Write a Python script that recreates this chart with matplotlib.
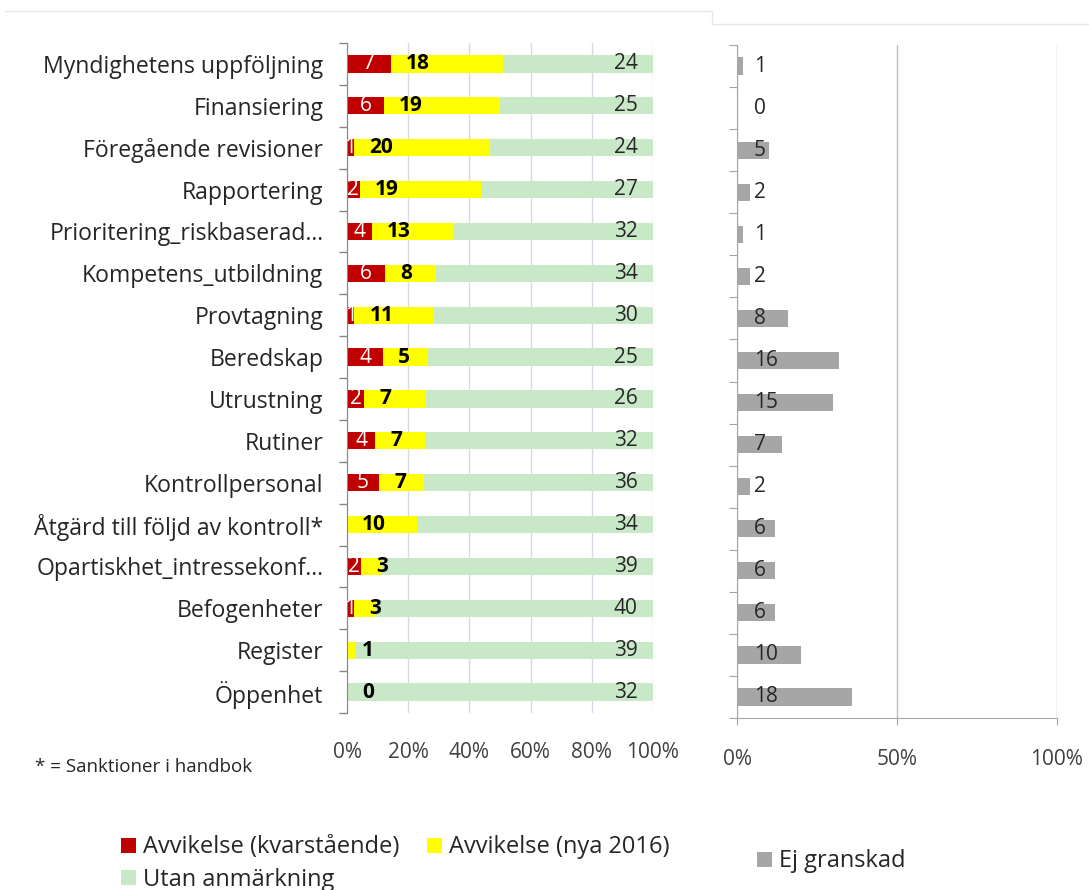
import numpy as np
import matplotlib.pyplot as plt
from matplotlib.lines import Line2D

# data
categories = ['Myndighetens uppföljning', 'Finansiering', 'Föregående revisioner',
              'Rapportering', 'Prioritering_riskbaserad...', 'Kompetens_utbildning',
              'Provtagning', 'Beredskap', 'Utrustning', 'Rutiner', 'Kontrollpersonal',
              'Åtgärd till följd av kontroll*', 'Opartiskhet_intressekonf...',
              'Befogenheter', 'Register', 'Öppenhet']
kvarstaende = [7, 6, 1, 2, 4, 6, 1, 4, 2, 4, 5, 0, 2, 1, 0, 0]
nya_2016 = [18, 19, 20, 19, 13, 8, 11, 5, 7, 7, 7, 10, 3, 3, 1, 0]
utan_anm = [24, 25, 24, 27, 32, 34, 30, 25, 26, 32, 36, 34, 39, 40, 39, 32]
ej_granskad = [1, 0, 5, 2, 1, 2, 8, 16, 15, 7, 2, 6, 6, 6, 10, 18]

plt.rcParams['font.family'] = ['Open Sans', 'DejaVu Sans']

red = np.array(kvarstaende)
yel = np.array(nya_2016)
grn = np.array(utan_anm)
gry = np.array(ej_granskad)
granskad = red + yel + grn
total = granskad + gry

red_p = red / granskad * 100
yel_p = yel / granskad * 100
grn_p = grn / granskad * 100
gry_p = gry / total * 100

y = np.arange(len(categories))
fs = 15
c_red = '#C00000'
c_yel = '#FFFF00'
c_grn = '#C8E8C8'
c_gry = '#A6A6A6'

fig = plt.figure(figsize=(10.89, 8.9), dpi=100)
ax1 = fig.add_axes([347 / 1089, 1 - 713 / 890, 306 / 1089, 670 / 890])
ax2 = fig.add_axes([737 / 1089, 1 - 718 / 890, 320 / 1089, 673 / 890])

# faint frame line at the top
fig.add_artist(Line2D([5 / 1089, 712 / 1089, 712 / 1089, 1], [1 - 11 / 890, 1 - 11 / 890, 1 - 24 / 890, 1 - 24 / 890],
                      color='#E8E8E8', linewidth=1))

# left: 100% stacked bars
h = 0.41
b1 = ax1.barh(y, red_p, height=h, color=c_red, label='Avvikelse (kvarstående)', zorder=2)
b2 = ax1.barh(y, yel_p, left=red_p, height=h, color=c_yel, label='Avvikelse (nya 2016)', zorder=2)
b3 = ax1.barh(y, grn_p, left=red_p + yel_p, height=h, color=c_grn, label='Utan anmärkning', zorder=2)

for i in range(len(categories)):
    if red[i] > 0:
        ax1.text(red_p[i] / 2, y[i], str(red[i]), color='white', fontsize=fs,
                 ha='center', va='center', zorder=3)
    ax1.annotate(str(yel[i]), (red_p[i], y[i]), xytext=(11, 0), textcoords='offset points',
                 fontsize=fs, fontweight='bold', ha='left', va='center', color='black', zorder=3)
    ax1.annotate(str(grn[i]), (100, y[i]), xytext=(-11, 0), textcoords='offset points',
                 fontsize=fs, ha='right', va='center', color='#262626', zorder=3)

ax1.set_xlim(0, 100)
ax1.set_ylim(len(categories) - 0.5, -0.5)
ax1.set_xticks([0, 20, 40, 60, 80, 100])
ax1.set_xticklabels(['0%', '20%', '40%', '60%', '80%', '100%'], fontsize=fs, color='#404040')
ax1.tick_params(axis='x', length=0, pad=21)
ax1.set_yticks(y)
ax1.set_yticklabels(categories, fontsize=16.6, color='#262626')
ax1.set_yticks(np.arange(-0.5, len(categories)), minor=True)
ax1.tick_params(axis='y', which='major', length=0, pad=17)
ax1.tick_params(axis='y', which='minor', length=6, color='#868686', width=1)
ax1.grid(axis='x', color='#D9D9E6', linewidth=1, zorder=0)
for s in ['top', 'right', 'bottom']:
    ax1.spines[s].set_visible(False)
ax1.spines['left'].set_color('#868686')

# right: not reviewed
b4 = ax2.barh(y, gry_p, height=h, color=c_gry, label='Ej granskad', zorder=2)
for i in range(len(categories)):
    ax2.annotate(str(gry[i]), (0, y[i]), xytext=(12, 0), textcoords='offset points',
                 fontsize=fs, ha='left', va='center', color='#262626', zorder=3)

ax2.set_xlim(0, 100)
ax2.set_ylim(len(categories) - 0.5, -0.5)
ax2.set_xticks([0, 50, 100])
ax2.set_xticklabels(['0%', '50%', '100%'], fontsize=fs, color='#404040')
ax2.tick_params(axis='x', length=5, color='#A6A6A6', pad=17)
ax2.set_yticks(np.arange(-0.5, len(categories)))
ax2.set_yticklabels([])
ax2.tick_params(axis='y', length=6, color='#A6A6A6')
ax2.grid(axis='x', color='#BFBFBF', linewidth=1, zorder=0)
for s in ['top', 'right']:
    ax2.spines[s].set_visible(False)
ax2.spines['left'].set_color('#A6A6A6')
ax2.spines['bottom'].set_color('#A6A6A6')

# footnote
fig.text(35 / 1089, 1 - 767 / 890, '* = Sanktioner i handbok', fontsize=13.5, va='center', color='#262626')

# legends
fig.legend([b1, b3, b2], ['Avvikelse (kvarstående)', 'Utan anmärkning', 'Avvikelse (nya 2016)'],
           ncol=2, loc='upper left', bbox_to_anchor=(112 / 1089, 1 - 826 / 890), frameon=False,
           fontsize=17, handlelength=0.6, handleheight=0.6, handletextpad=0.3,
           columnspacing=1.2, labelspacing=0.35, labelcolor='#262626', borderaxespad=0)
fig.legend([b4], ['Ej granskad'], loc='upper left', bbox_to_anchor=(748 / 1089, 1 - 840 / 890),
           frameon=False, fontsize=17, handlelength=0.6, handleheight=0.6, handletextpad=0.3,
           labelcolor='#262626', borderaxespad=0)

fig.savefig('out.png', dpi=100, facecolor='white')
